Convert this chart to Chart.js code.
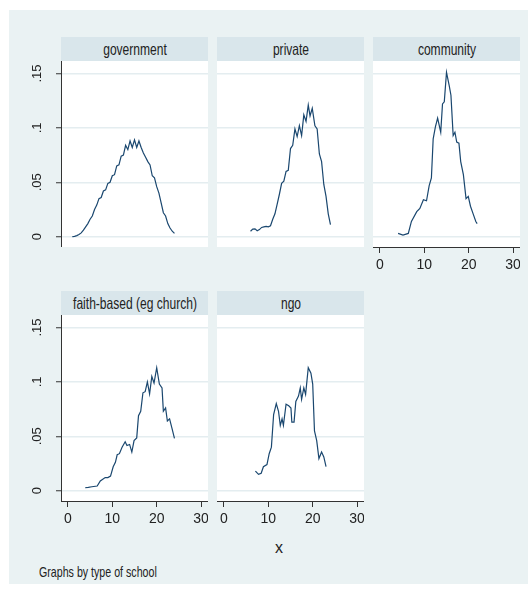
<!DOCTYPE html>
<html>
<head>
<meta charset="utf-8">
<script src="https://cdn.jsdelivr.net/npm/chart.js@4"></script>
<style>
  body { margin: 0; background: #fff; font-family: "Liberation Sans", Arial, sans-serif; }
  #bg { position: absolute; left: 9px; top: 10px; width: 519px; height: 574px; background: #EAF2F3; }
  .hdr { position: absolute; width: 147px; height: 24px; background: #D9E6EB; color: #222;
         font-size: 16.5px; line-height: 24px; white-space: nowrap; overflow: hidden; }
  .hdr span { position: absolute; left: 50%; top: 0; transform: translateX(-50%) scaleX(0.73); }
  canvas { position: absolute; }
  .txt { position: absolute; color: #222; white-space: nowrap; }
</style>
</head>
<body>
<div id="bg"></div>
<div class="txt" style="left:275px;top:539px;font-size:16px;">x</div>
<div class="txt" style="left:39px;top:563px;font-size:15px;transform:scaleX(0.71);transform-origin:left center;">Graphs by type of school</div>
<script>
// kernel density curves, one panel per school type
const TITLES = ['government', 'private', 'community', 'faith-based (eg church)', 'ngo'];

const GOV_X = [1,1.5,2,2.5,3,3.5,4,4.5,5,5.5,6,6.5,7,7.5,8,8.5,9,9.5,10,10.5,11,11.5,12,12.5,13,13.5,14,14.5,15,15.5,16,16.5,17,17.5,18,18.5,19,19.5,20,20.5,21,21.5,22,22.5,23,23.5,24];
const GOV_Y = [0,.0003,.001,.002,.0035,.006,.009,.012,.016,.019,.025,.029,.035,.036,.042,.043,.049,.050,.056,.057,.065,.066,.074,.075,.084,.080,.088,.082,.089,.082,.088,.082,.077,.073,.069,.066,.056,.054,.046,.040,.031,.022,.019,.012,.008,.005,.003];

const PRI_X = [6,6.5,7,7.5,8,8.5,9,9.5,10,10.5,11,11.5,12,12.5,13,13.5,14,14.5,15,15.5,16,16.5,17,17.5,18,18.5,19,19.4,19.9,20.5,21,21.5,22,22.5,23,23.5,24];
const PRI_Y = [.005,.007,.0072,.0055,.0065,.0085,.009,.0095,.009,.010,.016,.021,.030,.039,.049,.051,.060,.061,.081,.084,.099,.092,.102,.093,.112,.106,.121,.111,.118,.102,.099,.076,.069,.048,.037,.021,.011];

const COM_X = [4.1,5.2,6.4,7.1,8.3,9.0,9.8,10.5,11.1,11.6,12.0,12.5,13.0,13.7,14.1,14.5,15.0,15.6,16.0,16.5,16.9,17.3,17.8,18.2,18.8,19.4,19.9,20.4,21.0,21.6,21.9];
const COM_Y = [.003,.0015,.003,.014,.023,.026,.034,.033,.047,.054,.090,.101,.109,.096,.122,.124,.151,.139,.130,.093,.096,.087,.086,.069,.057,.035,.037,.028,.021,.014,.012];

const FAI_X = [3.9,4.6,5.4,6.6,7.3,8.4,9.0,9.6,10.2,10.7,11.1,11.6,12.2,12.9,13.3,13.9,14.4,14.9,15.5,15.9,16.4,16.9,17.4,17.9,18.4,18.9,19.4,20.0,20.6,21.2,21.5,22.0,22.4,22.9,23.4,24.0];
const FAI_Y = [.0027,.003,.0036,.0043,.009,.012,.012,.0134,.022,.026,.033,.034,.040,.045,.0415,.0425,.0355,.046,.0485,.069,.073,.090,.091,.100,.089,.105,.099,.113,.098,.0945,.073,.076,.064,.066,.058,.048];

const NGO_X = [7.1,7.8,8.4,8.9,9.7,10.2,10.7,11.2,11.8,12.3,12.7,13.1,13.4,14.0,14.6,15.1,15.3,15.8,16.2,16.8,17.2,17.5,18.0,18.4,19.0,19.6,20.0,20.4,20.9,21.4,22.0,22.5,23.0];
const NGO_Y = [.018,.015,.016,.022,.024,.034,.040,.070,.080,.073,.060,.066,.060,.0795,.078,.076,.063,.063,.082,.087,.0945,.084,.0945,.0885,.113,.108,.098,.055,.046,.0295,.0355,.031,.022];

const X_TICKS = [0, 10, 20, 30];
const Y_TICKS = [0, 0.05, 0.1, 0.15];
const Y_LABELS = ['0', '.05', '.1', '.15'];

const X_MIN = -1.55, X_MAX = 31.55;
const Y_MIN = -0.0095, Y_MAX = 0.1615;

const FONT = '"Liberation Sans", Arial, sans-serif';
const LINE = '#1A476F';
const AXIS = '#333';

// layout of the by() panels: plot region left/top, which axes are shown
const panels = [
  { t: 0, xs: GOV_X, ys: GOV_Y, left: 61,  top: 61,  yAxis: true,  xAxis: false },
  { t: 1, xs: PRI_X, ys: PRI_Y, left: 217, top: 61,  yAxis: false, xAxis: false },
  { t: 2, xs: COM_X, ys: COM_Y, left: 373, top: 61,  yAxis: false, xAxis: true },
  { t: 3, xs: FAI_X, ys: FAI_Y, left: 61,  top: 315, yAxis: true,  xAxis: true },
  { t: 4, xs: NGO_X, ys: NGO_Y, left: 217, top: 315, yAxis: false, xAxis: true },
];
const PW = 147, PH = 186, YAX = 51, XAX = 40;

const whiteArea = {
  id: 'whiteArea',
  beforeDraw(chart) {
    const a = chart.chartArea, ctx = chart.ctx;
    ctx.save(); ctx.fillStyle = '#fff';
    ctx.fillRect(a.left, a.top, a.right - a.left, a.bottom - a.top);
    ctx.restore();
  }
};

panels.forEach(p => {
  const h = document.createElement('div');
  h.className = 'hdr';
  h.style.left = p.left + 'px';
  h.style.top = (p.top - 24) + 'px';
  h.innerHTML = '<span>' + TITLES[p.t] + '</span>';
  document.body.appendChild(h);

  const cv = document.createElement('canvas');
  const w = PW + (p.yAxis ? YAX : 0), ht = PH + (p.xAxis ? XAX : 0);
  cv.width = w; cv.height = ht;
  cv.style.left = (p.left - (p.yAxis ? YAX : 0)) + 'px';
  cv.style.top = p.top + 'px';
  cv.style.width = w + 'px'; cv.style.height = ht + 'px';
  document.body.appendChild(cv);

  new Chart(cv, {
    type: 'line',
    data: { datasets: [{ data: p.xs.map((x, i) => ({ x, y: p.ys[i] })),
      borderColor: LINE, borderWidth: 1.2, pointRadius: 0, tension: 0, fill: false }] },
    options: {
      responsive: false, animation: false, events: [],
      layout: { padding: 0 },
      plugins: { legend: { display: false }, tooltip: { enabled: false } },
      scales: {
        x: {
          type: 'linear', min: X_MIN, max: X_MAX, display: p.xAxis,
          afterBuildTicks: s => { s.ticks = X_TICKS.map(v => ({ value: v })); },
          afterFit: s => { s.height = p.xAxis ? XAX : 0; s.paddingLeft = 0; s.paddingRight = 0; },
          grid: { drawOnChartArea: false, drawTicks: true, tickLength: 6, tickColor: AXIS, tickWidth: 1 },
          border: { display: true, color: AXIS, width: 1 },
          ticks: { font: { size: 14, family: FONT }, color: '#222', padding: 4, maxRotation: 0, autoSkip: false }
        },
        y: {
          type: 'linear', min: Y_MIN, max: Y_MAX,
          afterBuildTicks: s => { s.ticks = Y_TICKS.map(v => ({ value: v })); },
          afterFit: s => { s.width = p.yAxis ? YAX : 0; s.paddingTop = 0; s.paddingBottom = 0; },
          grid: { color: '#E4EDF0', lineWidth: 1.5, drawTicks: p.yAxis, tickLength: 5, tickColor: AXIS, tickWidth: 1 },
          border: { display: p.yAxis, color: AXIS, width: 1 },
          ticks: { display: p.yAxis, callback: (v, i) => Y_LABELS[i], minRotation: 90, maxRotation: 90,
                   crossAlign: 'center', padding: 10, font: { size: 13, family: FONT }, color: '#222' }
        }
      }
    },
    plugins: [whiteArea]
  });
});
</script>
</body>
</html>
